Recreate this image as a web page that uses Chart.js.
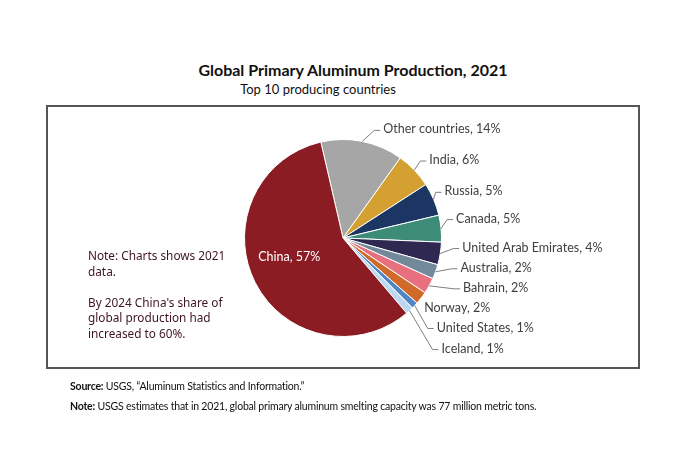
<!DOCTYPE html>
<html>
<head>
<meta charset="utf-8">
<script src="https://cdn.jsdelivr.net/npm/chart.js@4.4.1/dist/chart.umd.min.js"></script>
<style>
  body { margin: 0; background: #fff; }
  #page { position: relative; width: 684px; height: 460px; overflow: hidden; font-family: Lato, sans-serif; }
  #title { position: absolute; top: 60px; left: 0; width: 706px; text-align: center; font-weight: bold; font-size: 16px; color: #111; }
  #subtitle { position: absolute; top: 81px; left: 0; width: 636px; text-align: center; font-size: 13px; color: #111; }
  #box { position: absolute; left: 46px; top: 105px; width: 590px; height: 260px; border: 2px solid #555; }
  #note { position: absolute; left: 88px; top: 248px; font-family: "Noto Sans", sans-serif; font-size: 11.8px; line-height: 15.5px; color: #3f1426; }
  #foot { position: absolute; left: 70px; top: 377px; font-size: 10.5px; letter-spacing: -0.2px; color: #111; line-height: 19.5px; }
  canvas { position: absolute; left: 0; top: 0; }
</style>
</head>
<body>
<div id="page">
  <div id="title">Global Primary Aluminum Production, 2021</div>
  <div id="subtitle">Top 10 producing countries</div>
  <div id="box"></div>
  <canvas id="pie" width="684" height="460"></canvas>
  <div id="note">Note: Charts shows 2021<br>data.<br><br>By 2024 China's share of<br>global production had<br>increased to 60%.</div>
  <div id="foot">
    <div><b>Source:</b> USGS, “Aluminum Statistics and Information.”</div>
    <div><b>Note:</b> USGS estimates that in 2021, global primary aluminum smelting capacity was 77 million metric tons.</div>
  </div>
</div>
<script>
// Data (shares, label percentages as printed)
const countries = ['Other countries', 'India', 'Russia', 'Canada', 'United Arab Emirates',
    'Australia', 'Bahrain', 'Norway', 'United States', 'Iceland', 'China'];
const shares = [13.5, 6.0, 5.4, 4.4, 3.7, 2.4, 2.6, 2.1, 1.1, 1.25, 57.6];
const pctLabels = [14, 6, 5, 5, 4, 2, 2, 2, 1, 1, 57];

const sliceColors = ['#a6a6a6', '#d4a032', '#1c3663', '#3d8c77', '#2f2850',
    '#71899a', '#e8707e', '#d0692a', '#4f86c6', '#bdd7f0', '#8b1c24'];

// label nudges from the slice edge (dx, dy); China sits inside the pie
const labelNudge = [[21, -12], [15, -10], [11, -8], [15, -10], [22, -6],
    [25, -4], [34, 2], [3, 10], [22, 22], [32, 38], null];

const pieLabels = {
    id: 'pieLabels',
    afterDatasetsDraw(chart) {
        const ctx = chart.ctx;
        const arcs = chart.getDatasetMeta(0).data;
        ctx.save();
        ctx.font = '12.5px Lato';
        ctx.textBaseline = 'middle';
        arcs.forEach((arc, i) => {
            const text = countries[i] + ', ' + pctLabels[i] + '%';
            const mid = (arc.startAngle + arc.endAngle) / 2;
            if (!labelNudge[i]) {
                // inside label
                const r = arc.outerRadius * 0.6;
                ctx.fillStyle = '#ffffff';
                ctx.textAlign = 'center';
                ctx.fillText(text, arc.x + Math.cos(mid) * r - 1, arc.y + Math.sin(mid) * r - 8);
                return;
            }
            const ex = arc.x + Math.cos(mid) * arc.outerRadius;
            const ey = arc.y + Math.sin(mid) * arc.outerRadius;
            const tx = ex + labelNudge[i][0];
            const ty = ey + labelNudge[i][1];
            if (labelNudge[i][0] > 8) {
                ctx.strokeStyle = '#7f7f7f';
                ctx.lineWidth = 1;
                ctx.beginPath();
                ctx.moveTo(ex, ey);
                ctx.lineTo(tx - 9, ty + 1);
                ctx.lineTo(tx - 3, ty + 1);
                ctx.stroke();
            }
            ctx.fillStyle = '#404040';
            ctx.textAlign = 'left';
            ctx.fillText(text, tx, ty);
        });
        ctx.restore();
    }
};

new Chart(document.getElementById('pie'), {
    type: 'pie',
    data: {
        labels: countries,
        datasets: [{
            data: shares,
            backgroundColor: sliceColors,
            borderColor: '#ffffff',
            borderWidth: 1
        }]
    },
    options: {
        responsive: false,
        animation: false,
        rotation: -13,
        layout: { padding: { left: 244, right: 242, top: 139, bottom: 123 } },
        plugins: {
            legend: { display: false },
            tooltip: { enabled: false }
        }
    },
    plugins: [pieLabels]
});
</script>
</body>
</html>
